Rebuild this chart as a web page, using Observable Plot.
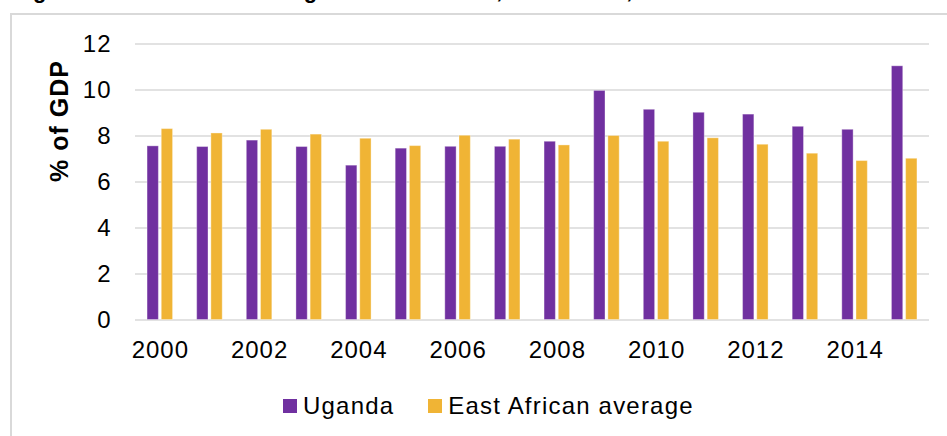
<!DOCTYPE html>
<html>
<head>
<meta charset="utf-8">
<script src="https://cdn.jsdelivr.net/npm/d3@7"></script>
<script src="https://cdn.jsdelivr.net/npm/@observablehq/plot@0.6"></script>
<style>
  html, body { margin: 0; padding: 0; background: #fff; }
  body { width: 947px; height: 436px; position: relative; overflow: hidden; font-family: "Liberation Sans", Arial, sans-serif; }
  #title { position: absolute; left: 12px; top: -21px; font-size: 22px; line-height: 24px; font-weight: bold; letter-spacing: 0.7px; white-space: nowrap; color: #000; }
  #frame { position: absolute; left: 10px; top: 13px; width: 960px; height: 460px; border-top: 2px solid #d9d9d9; border-left: 2px solid #d9d9d9; box-sizing: border-box; }
  #chart { position: absolute; left: 0; top: 0; }
  #legend { position: absolute; left: 283px; top: 391px; height: 30px; display: flex; align-items: center; font-size: 24px; letter-spacing: 1.2px; color: #000; }
  #legend .sw { width: 14px; height: 14px; display: inline-block; margin-right: 6px; }
  #legend .item { display: flex; align-items: center; margin-right: 34px; }
</style>
</head>
<body>
<div id="title">Figure 4: Tax revenue in Uganda and EAC-5, 2000–2015, % of GDP</div>
<div id="frame"></div>
<div id="chart"></div>
<div id="legend"></div>
<script>
const years = [2000, 2001, 2002, 2003, 2004, 2005, 2006, 2007, 2008, 2009, 2010, 2011, 2012, 2013, 2014, 2015];
const uganda = [7.55, 7.52, 7.80, 7.52, 6.71, 7.45, 7.53, 7.53, 7.75, 9.96, 9.14, 9.01, 8.93, 8.40, 8.27, 11.03];
const eastAfrica = [8.30, 8.11, 8.27, 8.06, 7.88, 7.56, 8.01, 7.84, 7.59, 8.00, 7.75, 7.90, 7.62, 7.23, 6.91, 7.01];
const seriesNames = ["Uganda", "East African average"];
const seriesColors = ["#7030a0", "#f0b435"];
const yTicks = [0, 2, 4, 6, 8, 10, 12];
const xTickLabels = [2000, 2002, 2004, 2006, 2008, 2010, 2012, 2014];
const yLabel = "% of GDP";

const ugData = years.map((year, i) => ({year, value: uganda[i]}));
const eaData = years.map((year, i) => ({year, value: eastAfrica[i]}));

const chart = Plot.plot({
  width: 947,
  height: 370,
  marginLeft: 135,
  marginRight: 18,
  marginTop: 43.5,
  marginBottom: 50.5,
  style: {fontFamily: "'Liberation Sans', Arial, sans-serif", fontSize: "24px", letterSpacing: "1px", color: "#000", background: "transparent", overflow: "visible"},
  x: {
    type: "band",
    domain: years,
    round: false,
    paddingInner: 0.772,
    paddingOuter: 0.386,
    tickSize: 0,
    tickPadding: 21,
    tickFormat: d => xTickLabels.includes(d) ? String(d) : "",
    label: null
  },
  y: {
    domain: [0, 12],
    ticks: yTicks,
    tickSize: 0,
    tickPadding: 24,
    tickFormat: d => String(d),
    label: null
  },
  marks: [
    Plot.ruleY(yTicks, {stroke: "#d9d9d9", strokeWidth: 1.7}),
    Plot.barY(ugData, {x: "year", y: "value", fill: seriesColors[0], dx: -7.1, stroke: "#ffffff", strokeOpacity: 0.35, strokeWidth: 1}),
    Plot.barY(eaData, {x: "year", y: "value", fill: seriesColors[1], dx: 7.1, stroke: "#ffffff", strokeOpacity: 0.35, strokeWidth: 1}),
    Plot.text([yLabel], {frameAnchor: "left", text: d => d, rotate: -90, dx: -76, fontWeight: "bold", fontSize: 25, letterSpacing: 0.5, fill: "#000"})
  ]
});
document.getElementById("chart").appendChild(chart);

const legend = document.getElementById("legend");
seriesNames.forEach((name, i) => {
  const item = document.createElement("span");
  item.className = "item";
  const sw = document.createElement("span");
  sw.className = "sw";
  sw.style.background = seriesColors[i];
  item.appendChild(sw);
  item.appendChild(document.createTextNode(name));
  legend.appendChild(item);
});
</script>
</body>
</html>
